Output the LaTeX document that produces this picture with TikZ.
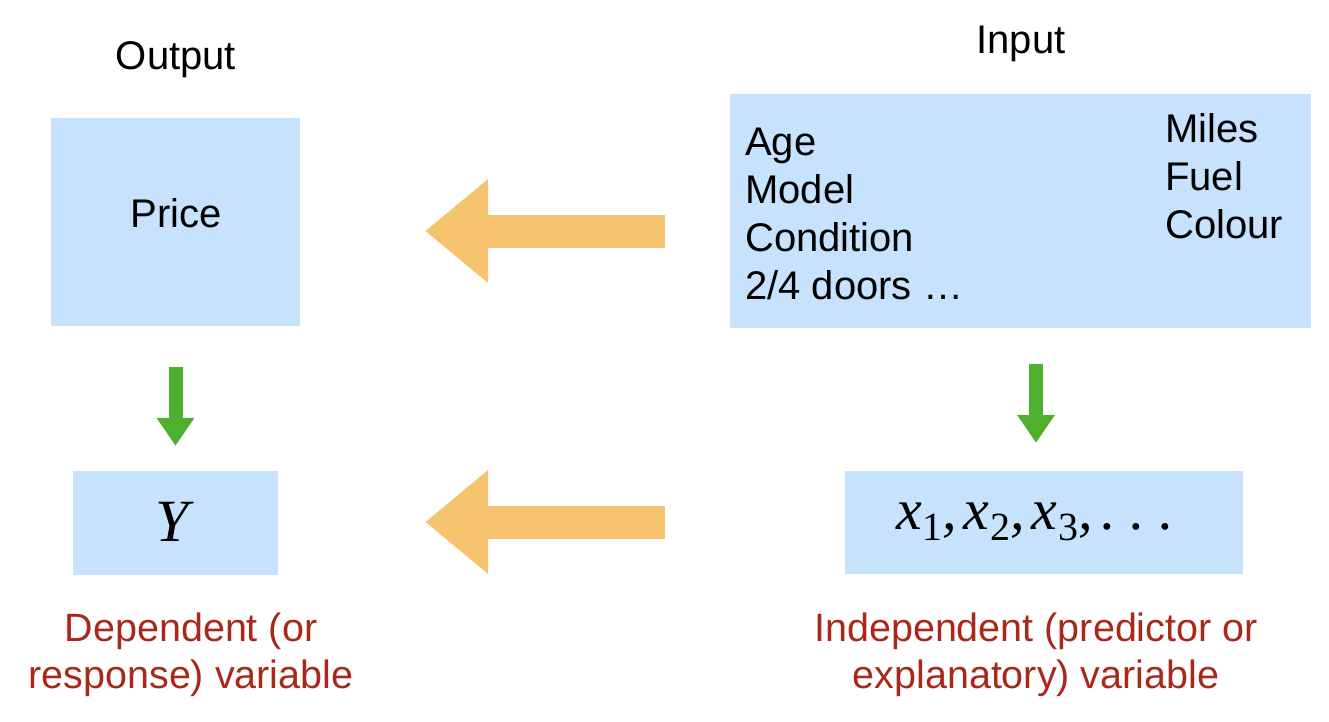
\documentclass[tikz,border=0pt]{standalone}
\usepackage{fontspec}
\setmainfont{Liberation Sans}
\newfontfamily\serifit{Liberation Serif}
\usetikzlibrary{arrows.meta}
\definecolor{boxblue}{HTML}{C7E2FC}
\definecolor{arrorange}{HTML}{F6C46E}
\definecolor{arrgreen}{HTML}{4FAF2F}
\definecolor{labred}{HTML}{A8291B}
\newcommand{\subx}[1]{\itshape x\kern0.01em\raisebox{-0.2em}{\upshape\fontsize{40}{40}\selectfont #1}}
\tikzset{
  bluebox/.style={fill=boxblue, draw=none, inner sep=0pt},
  lab/.style={font=\fontsize{40}{46}\selectfont, inner sep=0pt},
  redlab/.style={font=\fontsize{39.5}{47}\selectfont, text=labred, align=center, inner sep=0pt},
  fatarrow/.style={draw=arrorange, line width=33pt, -{Triangle[length=63pt,width=100pt]}},
  greenarrow/.style={draw=arrgreen, line width=14pt, -{Triangle[length=28pt,width=36pt]}}
}
\begin{document}
\begin{tikzpicture}[x=1pt,y=-1pt]
\useasboundingbox (0,0) rectangle (1329,721);
% boxes
\node[bluebox, minimum width=249pt, minimum height=208pt] (price) at (175.5,222) {};
\node[bluebox, minimum width=581pt, minimum height=234pt] (input) at (1020.5,211) {};
\node[bluebox, minimum width=205pt, minimum height=104pt] (ybox) at (175.5,523) {};
\node[bluebox, minimum width=398pt, minimum height=103pt] (xbox) at (1044,522.5) {};
% titles
\node[lab] (outlab) at (176,60) {Output};
\node[lab] (inlab) at (1021,44) {Input};
\node[lab] (pricetxt) at (176,213) {Price};
% input list
\node[lab, anchor=base west] (age) at (745,155) {Age};
\node[lab, anchor=base west] (model) at (745,203) {Model};
\node[lab, anchor=base west] (cond) at (745,251) {Condition};
\node[lab, anchor=base west] (doors) at (745,299) {2/4 doors \dots};
\node[lab, anchor=base west] (miles) at (1165,142) {Miles};
\node[lab, anchor=base west] (fuel) at (1165,190) {Fuel};
\node[lab, anchor=base west] (colour) at (1165,238) {Colour};
% math
\node[inner sep=0pt, font=\fontsize{60}{60}\selectfont\serifit] (ytxt) at (172,522) {\itshape Y};
\node[inner sep=0pt, font=\fontsize{58}{60}\selectfont\serifit] (xtxt) at (1035,522) {\subx{1},\kern0.12em\subx{2},\kern0.12em\subx{3},\kern0.15em.\kern0.25em.\kern0.25em.};
% red labels
\node[redlab] (deplab) at (191,655) {Dependent (or\\response) variable};
\node[redlab] (indlab) at (1036,655) {Independent (predictor or\\explanatory) variable};
% arrows
\coordinate (o1s) at ([xshift=-65pt]input.west |- 0,231);
\coordinate (o1e) at ([xshift=125pt]price.east |- 0,231);
\draw[fatarrow] (o1s) -- (o1e);
\coordinate (o2s) at ([xshift=-180pt]xbox.west |- 0,522);
\coordinate (o2e) at ([xshift=147pt]ybox.east |- 0,522);
\draw[fatarrow] (o2s) -- (o2e);
\coordinate (g1s) at ([yshift=-41pt]price.south);
\coordinate (g1e) at ([yshift=25pt]ybox.north);
\draw[greenarrow] (g1s) -- (g1e);
\coordinate (g2s) at ([yshift=-36pt]input.south -| 1036,0);
\coordinate (g2e) at ([yshift=28pt]xbox.north -| 1036,0);
\draw[greenarrow] (g2s) -- (g2e);
\end{tikzpicture}
\end{document}
